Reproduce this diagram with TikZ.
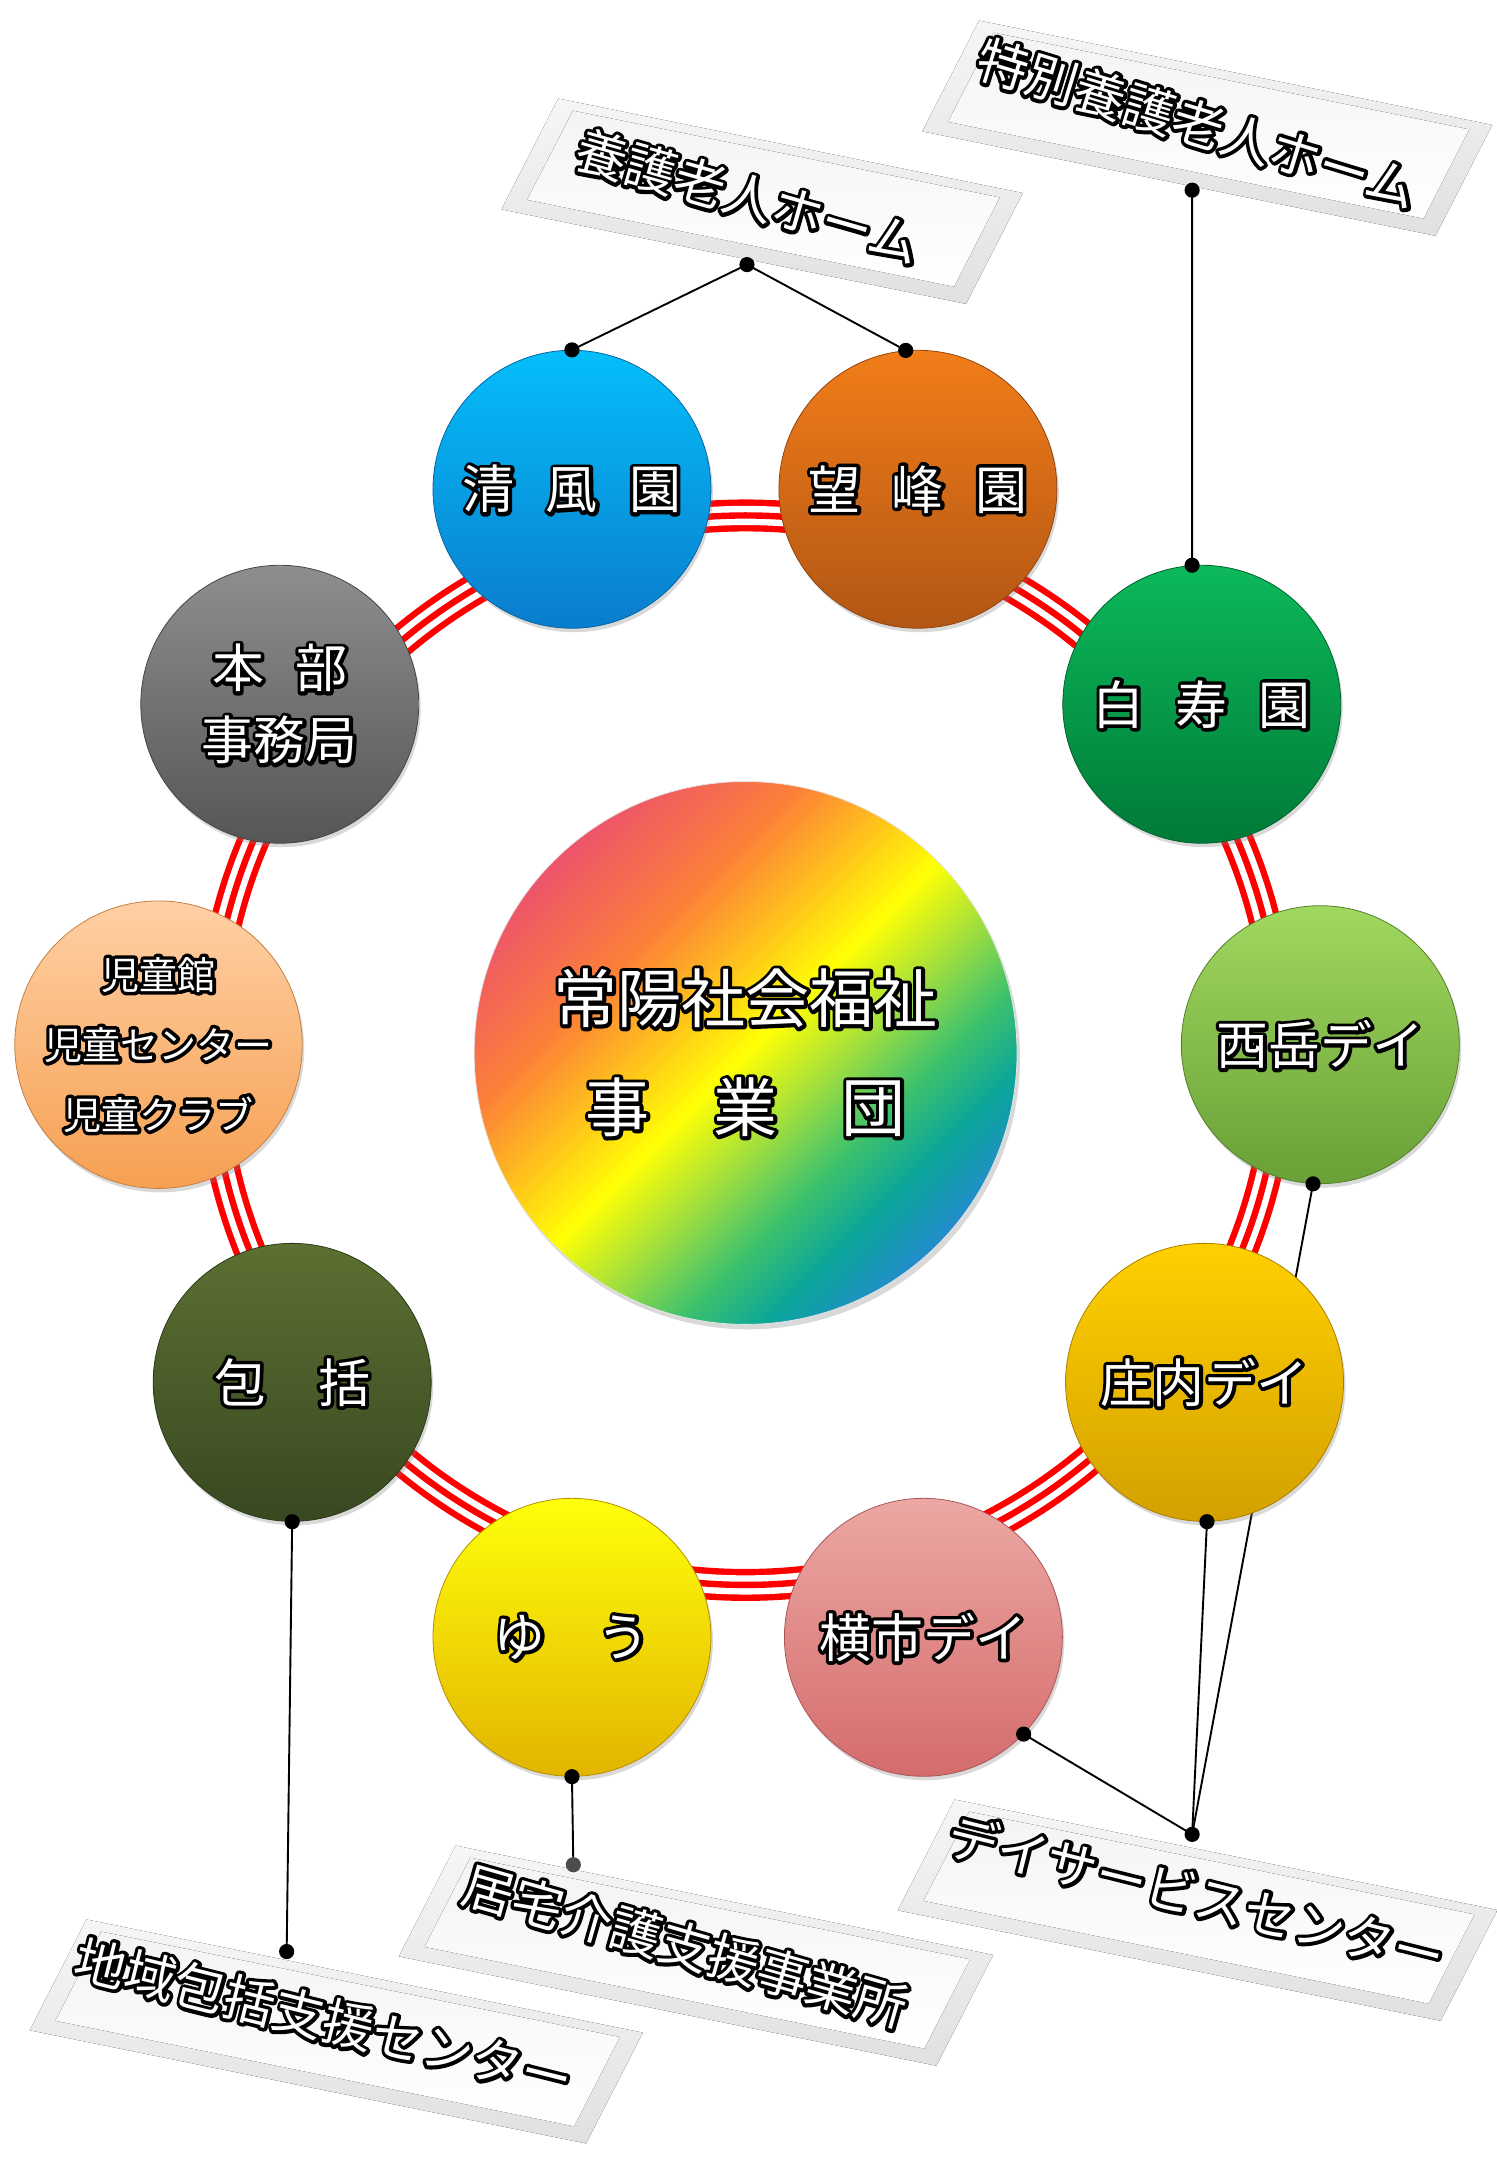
\documentclass[tikz,border=0pt]{standalone}
\usepackage{fontspec}
\setmainfont{Noto Sans CJK JP}
\usetikzlibrary{shadows}

% white text with a black rim: one stroked copy, then the text itself
\newcommand{\glow}[1]{\leavevmode\rlap{\special{pdf:literal direct 1 Tr 7 w 1 j 0 0 0 RG}#1\special{pdf:literal direct 0 Tr}}#1}

\definecolor{seifuuTop}{RGB}{5,190,250}
\definecolor{seifuuBot}{RGB}{10,125,205}
\definecolor{bouhouTop}{RGB}{242,125,25}
\definecolor{bouhouBot}{RGB}{178,86,20}
\definecolor{hakujuTop}{RGB}{12,185,90}
\definecolor{hakujuBot}{RGB}{0,122,56}
\definecolor{nishiTop}{RGB}{160,216,95}
\definecolor{nishiBot}{RGB}{105,160,55}
\definecolor{shounaiTop}{RGB}{255,208,0}
\definecolor{shounaiBot}{RGB}{212,160,0}
\definecolor{yokoTop}{RGB}{236,168,164}
\definecolor{yokoBot}{RGB}{212,108,108}
\definecolor{yuuTop}{RGB}{255,255,10}
\definecolor{yuuBot}{RGB}{226,180,0}
\definecolor{houTop}{RGB}{92,112,50}
\definecolor{houBot}{RGB}{56,72,33}
\definecolor{jidouTop}{RGB}{255,208,165}
\definecolor{jidouBot}{RGB}{246,160,82}
\definecolor{honbuTop}{RGB}{142,142,142}
\definecolor{honbuBot}{RGB}{86,86,86}

\pgfdeclarelayer{bg}
\pgfsetlayers{bg,main}

\pgfdeclarehorizontalshading{rainbow}{100bp}{rgb(0bp)=(0.93,0.33,0.42);
  rgb(25bp)=(0.93,0.33,0.42); rgb(36bp)=(0.99,0.5,0.22); rgb(44bp)=(1,0.78,0.1);
  rgb(50bp)=(1,1,0.02); rgb(57bp)=(0.62,0.87,0.25); rgb(63bp)=(0.25,0.76,0.42);
  rgb(69bp)=(0.04,0.65,0.6); rgb(75bp)=(0.14,0.55,0.8); rgb(100bp)=(0.14,0.55,0.8)}

\begin{document}
\begin{tikzpicture}[x=1.3785pt, y=-1.3785pt,
    ball/.style 2 args={circle, minimum size=278pt, inner sep=0pt,
      top color=#1, bottom color=#2, draw=#2!80!black, line width=.8pt,
      text=white, align=center, font=\fontsize{52}{72}\selectfont,
      drop shadow={opacity=.3, shadow xshift=2pt, shadow yshift=-4pt}},
    platetext/.style={text=white, inner sep=0pt, font=\fontsize{51}{60}\selectfont},
    wire/.style={line width=1.9pt},
    knob/.style={fill=black}]
    \useasboundingbox (0,0) rectangle (1086,1568);

    % centre
    \node[circle, minimum size=543pt, inner sep=0pt, shade, shading=rainbow,
      shading angle=-45, draw=white!80!gray, line width=.8pt, text=white,
      align=center, font=\fontsize{64}{109}\selectfont,
      drop shadow={opacity=.3, shadow xshift=3pt, shadow yshift=-5pt}]
      (hub) at (541,764) {\glow{常陽社会福祉}\\\glow{事　業　団}};

    % facilities round the ring
    \node[ball={seifuuTop}{seifuuBot}] (seifuu) at (415,355) {\glow{清\hspace{.6em}風\hspace{.6em}園}};
    \node[ball={bouhouTop}{bouhouBot}] (bouhou) at (666,355) {\glow{望\hspace{.6em}峰\hspace{.6em}園}};
    \node[ball={hakujuTop}{hakujuBot}] (hakuju) at (872,511) {\glow{白\hspace{.6em}寿\hspace{.6em}園}};
    \node[ball={nishiTop}{nishiBot}] (nishidake) at (958,758) {\glow{西岳デイ}};
    \node[ball={shounaiTop}{shounaiBot}] (shounai) at (874,1003) {\glow{庄内デイ}};
    \node[ball={yokoTop}{yokoBot}] (yokoichi) at (670,1188) {\glow{横市デイ}};
    \node[ball={yuuTop}{yuuBot}] (yuu) at (415,1188) {\glow{ゆ　う}};
    \node[ball={houTop}{houBot}] (houkatsu) at (212,1003) {\glow{包　括}};
    \node[ball={jidouTop}{jidouBot}, font=\fontsize{38}{70}\selectfont] (jidou) at (115,758)
      {\glow{児童館}\\\glow{児童センター}\\\glow{児童クラブ}};
    \node[ball={honbuTop}{honbuBot}] (honbu) at (203,511) {\glow{本\hspace{.6em}部}\\\glow{事務局}};

    % plate pins
    \coordinate (yougoPin) at (542,192);
    \coordinate (tokuPin) at (865,138);
    \coordinate (dayPin) at (865,1331);
    \coordinate (kyotakuPin) at (416,1353);
    \coordinate (chiikiPin) at (208,1416);

    \begin{pgfonlayer}{bg}
      % plates
      \foreach \cx/\cy/\hw in {553/146/172, 876/93/190, 869/1386/201, 505/1419/199, 244/1474/206}{
        \begin{scope}[shift={(\cx,\cy)}, rotate=-11.5, xslant=.28]
          \fill[top color=gray!7, bottom color=gray!24] (-\hw,-43.5) rectangle (\hw,43.5);
          \fill[top color=gray!9, bottom color=white] (-\hw+14,-37) rectangle (\hw-14,33);
        \end{scope}
      }
      % ring
      \draw[red, line width=32pt] (541,762) circle[radius=388];
      \draw[white, line width=19.2pt] (541,762) circle[radius=388];
      \draw[red, line width=6.4pt] (541,762) circle[radius=388];
      % wires
      \draw[wire] (seifuu.north) -- (yougoPin) -- (bouhou.95);
      \draw[wire] (tokuPin) -- (hakuju.94);
      \draw[wire] (yokoichi.-44) -- (dayPin) -- (shounai.-89);
      \draw[wire] (dayPin) -- (nishidake.-93);
      \draw[wire] (yuu.south) -- (kyotakuPin);
      \draw[wire] (houkatsu.south) -- (chiikiPin);
    \end{pgfonlayer}

    % plate labels
    \node[platetext, rotate=-16] (yougo) at (543,143) {\glow{養護老人ホーム}};
    \node[platetext, rotate=-17] (toku) at (869,90) {\glow{特別養護老人ホーム}};
    \node[platetext, rotate=-14] (day) at (868,1375) {\glow{デイサービスセンター}};
    \node[platetext, rotate=-16] (kyotaku) at (497,1412) {\glow{居宅介護支援事業所}};
    \node[platetext, rotate=-14] (chiiki) at (235,1465) {\glow{地域包括支援センター}};

    % dots
    \fill[knob] (seifuu.north) circle[radius=5.5];
    \fill[knob] (bouhou.95) circle[radius=5.5];
    \fill[knob] (hakuju.94) circle[radius=5.5];
    \fill[knob] (nishidake.-93) circle[radius=5.5];
    \fill[knob] (shounai.-89) circle[radius=5.5];
    \fill[knob] (yokoichi.-44) circle[radius=5.5];
    \fill[knob] (yuu.south) circle[radius=5.5];
    \fill[knob] (houkatsu.south) circle[radius=5.5];
    \fill[knob] (yougoPin) circle[radius=5.5];
    \fill[knob] (tokuPin) circle[radius=5.5];
    \fill[knob] (dayPin) circle[radius=5.5];
    \fill[knob, fill=gray!60!black] (kyotakuPin) circle[radius=5.5];
    \fill[knob] (chiikiPin) circle[radius=5.5];
\end{tikzpicture}
\end{document}
